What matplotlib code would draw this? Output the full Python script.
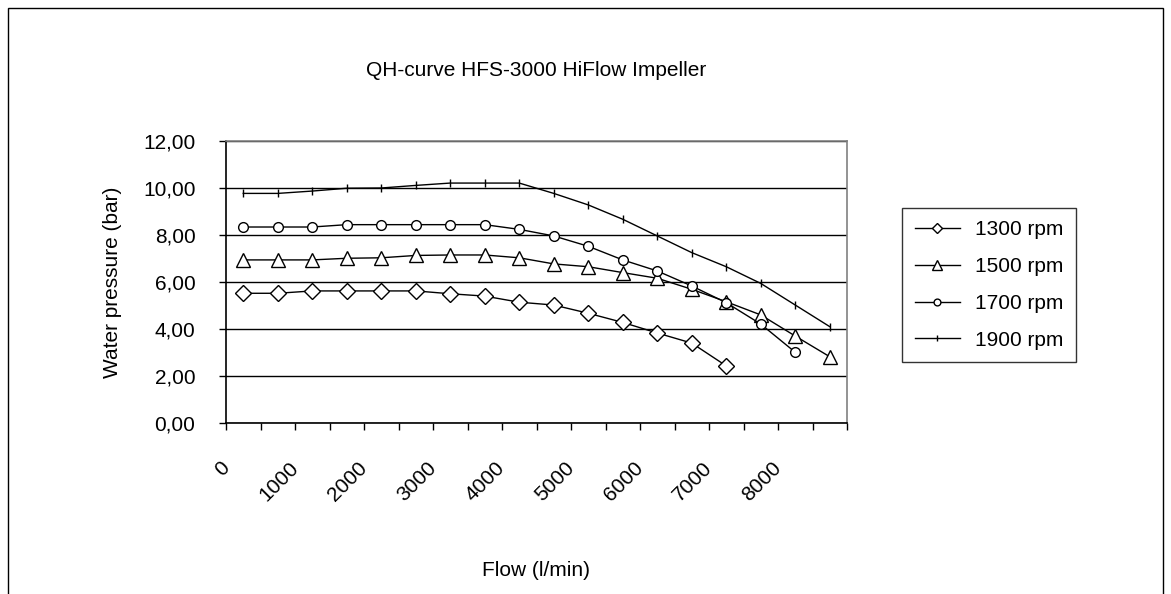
import matplotlib.pyplot as plt
import matplotlib.transforms as mtransforms
from matplotlib.patches import Rectangle
from matplotlib.ticker import FuncFormatter, MultipleLocator

# fonte parecida com Arial
plt.rcParams['font.family'] = ['Liberation Sans', 'DejaVu Sans']

#####
# Dados lidos da curva QH
#####

# categorias do eixo x (vazao em l/min)
vazao = [0, 500, 1000, 1500, 2000, 2500, 3000, 3500, 4000,
         4500, 5000, 5500, 6000, 6500, 7000, 7500, 8000, 8500]

# pressao (bar) para cada rotacao
p_1300 = [5.52, 5.52, 5.62, 5.62, 5.62, 5.62, 5.50, 5.40, 5.14,
          5.02, 4.67, 4.28, 3.83, 3.40, 2.43]
p_1500 = [6.94, 6.94, 6.94, 7.01, 7.03, 7.13, 7.15, 7.15, 7.03,
          6.77, 6.65, 6.40, 6.16, 5.69, 5.16, 4.60, 3.70, 2.82]
p_1700 = [8.34, 8.34, 8.34, 8.44, 8.44, 8.44, 8.44, 8.44, 8.24,
          7.96, 7.52, 6.94, 6.47, 5.83, 5.12, 4.21, 3.01]
p_1900 = [9.77, 9.77, 9.87, 9.99, 10.00, 10.11, 10.21, 10.21, 10.21,
          9.77, 9.28, 8.67, 7.96, 7.25, 6.65, 5.94, 5.02, 4.10]

rotacoes = ['1300 rpm', '1500 rpm', '1700 rpm', '1900 rpm']
marcadores = [('D', 7.8), ('^', 10.5), ('o', 7.0), ('|', 5.5)]

#####
# Plotando
#####
fig = plt.figure(figsize=(11.71, 5.94), dpi=100)
ax = fig.add_axes([226 / 1171, 1 - 423 / 594, 621 / 1171, 282 / 594])

# moldura externa do grafico
fig.patches.append(Rectangle((8 / 1171, -0.1), 1155 / 1171, 1.1 - 8 / 594,
                             transform=fig.transFigure, fill=False,
                             edgecolor='black', linewidth=1.0))

for serie, nome, (m, ms) in zip([p_1300, p_1500, p_1700, p_1900],
                                rotacoes, marcadores):
    ax.plot(vazao[:len(serie)], serie, color='black', linewidth=1.0,
            marker=m, markersize=ms, markerfacecolor='white',
            markeredgecolor='black', markeredgewidth=1.0, label=nome,
            zorder=3)

# eixo y
ax.set_ylim(0, 12)
ax.yaxis.set_major_locator(MultipleLocator(2))
ax.yaxis.set_major_formatter(
    FuncFormatter(lambda v, pos: f'{v:.2f}'.replace('.', ',')))
ax.grid(axis='y', color='black', linewidth=1.0, zorder=1)
ax.tick_params(axis='y', direction='out', length=5, width=1.0, pad=17,
               labelsize=15, color='black')

# eixo x como categorias: marcas entre as categorias, rotulos a cada 2
ax.set_xlim(-250, 8750)
ax.set_xticks(vazao[::2])
ax.set_xticklabels([str(v) for v in vazao[::2]], rotation=45,
                   rotation_mode='anchor', ha='right', va='center')
ax.set_xticks([v - 250 for v in vazao] + [8750], minor=True)
ax.tick_params(axis='x', which='major', length=0, pad=30, labelsize=15)
ax.tick_params(axis='x', which='minor', direction='out', length=5,
               width=1.0, color='black')
desloca = mtransforms.ScaledTranslation(-0.17, 0, fig.dpi_scale_trans)
for lbl in ax.get_xticklabels():
    lbl.set_transform(lbl.get_transform() + desloca)

# bordas da area de plotagem
ax.spines['left'].set_color('black')
ax.spines['bottom'].set_color('black')
ax.spines['top'].set_color('#808080')
ax.spines['right'].set_color('#808080')
for s in ax.spines.values():
    s.set_linewidth(1.2)

# titulos dos eixos
ax.set_ylabel('Water pressure (bar)', fontsize=15, va='center')
ax.yaxis.set_label_coords((113 - 226) / 621, 0.5)
ax.set_xlabel('Flow (l/min)', fontsize=15, va='center')
ax.xaxis.set_label_coords(0.5, -(570 - 423) / 282)

fig.text(536 / 1171, 1 - 70 / 594, 'QH-curve HFS-3000 HiFlow Impeller',
         ha='center', va='center', fontsize=15)

# legenda
leg = ax.legend(loc='center left', bbox_to_anchor=(902 / 1171, 1 - 285 / 594),
                bbox_transform=fig.transFigure, borderaxespad=0,
                fontsize=15, frameon=True, fancybox=False, markerscale=0.7,
                handlelength=2.2, handletextpad=0.7, labelspacing=0.85,
                borderpad=0.6)
leg.get_frame().set_edgecolor('black')
leg.get_frame().set_linewidth(1.0)

# salvando o grafico
fig.savefig('out.png', dpi=100)
